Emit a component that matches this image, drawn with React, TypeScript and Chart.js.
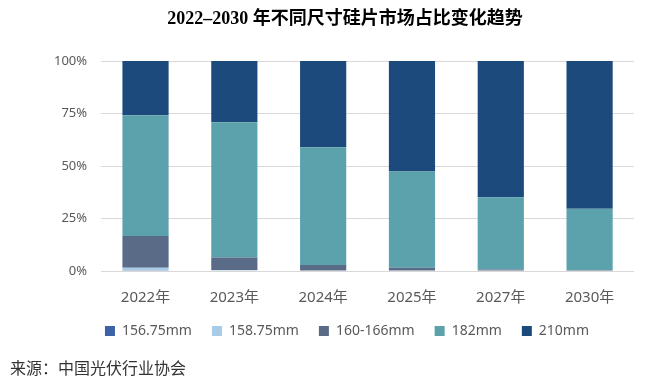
import React, { useEffect, useRef } from "react";
import { Chart, registerables } from "chart.js";

Chart.register(...registerables);

const categories = ["2022年", "2023年", "2024年", "2025年", "2027年", "2030年"];
const s15675 = [0.3, 0, 0, 0, 0, 0];
const s15875 = [1.2, 0.5, 0, 0, 0, 0];
const s160166 = [15.2, 5.9, 2.9, 1.5, 0.7, 0.5];
const s182 = [57.5, 64.4, 56.0, 45.9, 34.4, 29.2];
const s210 = [25.8, 29.2, 41.1, 52.6, 64.9, 70.3];
const yTicks = [0, 25, 50, 75, 100];

const seriesNames = ["156.75mm", "158.75mm", "160-166mm", "182mm", "210mm"];
const seriesColors = ["#3d62a8", "#a8cbe8", "#5a6b87", "#5ba2ad", "#1c4a7c"];

const legendShift = {
  id: "legendShift",
  afterLayout(chart: any) {
    if (chart.legend) {
      chart.legend.left += 10;
      chart.legend.right += 10;
    }
  },
};

export default function App() {
  const ref = useRef<HTMLCanvasElement>(null);
  useEffect(() => {
    const values = [s15675, s15875, s160166, s182, s210];
    const chart = new Chart(ref.current!, {
      type: "bar",
      data: {
        labels: categories,
        datasets: values.map((d, i) => ({
          label: seriesNames[i],
          data: d,
          backgroundColor: seriesColors[i],
          borderWidth: 0,
          categoryPercentage: 1,
          barPercentage: 0.52,
        })),
      },
      plugins: [legendShift],
      options: {
        responsive: false,
        animation: false,
        layout: { padding: { left: 40, right: 27, top: 61, bottom: 35 } },
        plugins: {
          title: { display: false },
          legend: {
            position: "bottom",
            labels: {
              boxWidth: 10,
              boxHeight: 10,
              color: "#595959",
              padding: 20,
              font: { family: "'Noto Sans', 'Noto Sans CJK SC'", size: 14 },
            },
          },
          tooltip: { enabled: false },
        },
        scales: {
          x: {
            stacked: true,
            grid: { display: false },
            border: { display: false },
            afterFit: (axis: any) => {
              axis.height -= 13;
            },
            ticks: {
              color: "#595959",
              padding: 10,
              font: { family: "'Noto Sans', 'Noto Sans CJK SC'", size: 15 },
            },
          },
          y: {
            stacked: true,
            min: 0,
            max: 100,
            afterBuildTicks: (axis: any) => {
              axis.ticks = yTicks.map((v) => ({ value: v }));
            },
            grid: { color: "#d9d9d9", drawTicks: false, lineWidth: 1 },
            border: { display: false },
            ticks: {
              color: "#595959",
              padding: 14,
              font: { family: "'Noto Sans', 'Noto Sans CJK SC'", size: 13 },
              callback: (v: any) => v + "%",
            },
          },
        },
      },
    });
    return () => chart.destroy();
  }, []);
  return (
    <div style={{ position: "fixed", left: 0, top: 0, width: 661, height: 383, background: "#fff" }}>
      <canvas ref={ref} width={661} height={383} />
      <div
        style={{
          position: "absolute",
          left: 0,
          width: 690,
          top: 7,
          textAlign: "center",
          fontSize: 18,
          fontWeight: "bold",
          color: "#000",
          fontFamily: "'Liberation Serif', 'Noto Sans CJK SC', serif",
          lineHeight: "22px",
          whiteSpace: "nowrap",
        }}
      >
        2022–2030 年不同尺寸硅片市场占比变化趋势
      </div>
      <div
        style={{
          position: "absolute",
          left: 10,
          top: 357,
          fontSize: 16,
          color: "#333",
          fontFamily: "'Noto Sans CJK SC', serif",
          lineHeight: "20px",
        }}
      >
        来源：中国光伏行业协会
      </div>
    </div>
  );
}
